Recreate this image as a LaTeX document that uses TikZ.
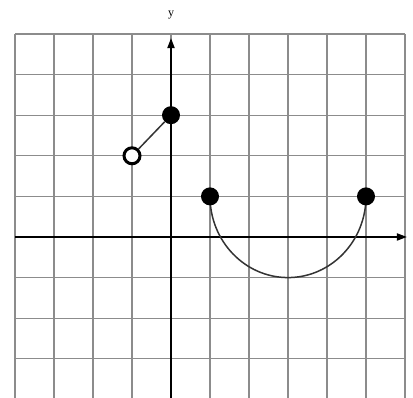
\documentclass[tikz,border=0pt]{standalone}
\usepackage{fontspec}
\setmainfont{Liberation Serif}
\usetikzlibrary{arrows.meta}
\begin{document}
\begin{tikzpicture}[x=39pt,y=40.6pt,
  gridline/.style={draw=black!45,line width=1.3pt},
  axisline/.style={draw=black,line width=1.8pt,-{Triangle[length=10pt,width=7pt]}},
  curve/.style={draw=black!80,line width=1.5pt},
  filleddot/.style={circle,fill=black,inner sep=0pt,minimum size=18pt},
  opendot/.style={circle,draw=black,line width=3pt,fill=white,inner sep=0pt,minimum size=16pt}]
\useasboundingbox (-4.385,-3.966) rectangle (6.205,5.837);
% grid
\foreach \i in {-4,...,6} \draw[gridline] (\i,-4.1) -- (\i,5);
\foreach \j in {-4,...,5} \draw[gridline] (-4,\j) -- (6,\j);
% axes
\coordinate (xs) at (-4,0);
\coordinate (xe) at (6.05,0);
\coordinate (ys) at (0,-4.1);
\coordinate (ye) at (0,4.9);
\draw[axisline] (xs) -- (xe);
\draw[axisline] (ys) -- (ye);
\node[font=\fontsize{12}{14}\selectfont] (ylab) at (0,5.47) {y};
% curves
\coordinate (ac) at (1,1);
\draw[curve] (ac) arc[start angle=180,end angle=360,radius=2] coordinate (bc);
% points
\node[filleddot] (a) at (0,3) {};
\node[opendot] (b) at (-1,2) {};
\node[filleddot] (c) at (ac) {};
\node[filleddot] (d) at (bc) {};
\draw[curve] (b) -- (a);
\end{tikzpicture}
\end{document}
